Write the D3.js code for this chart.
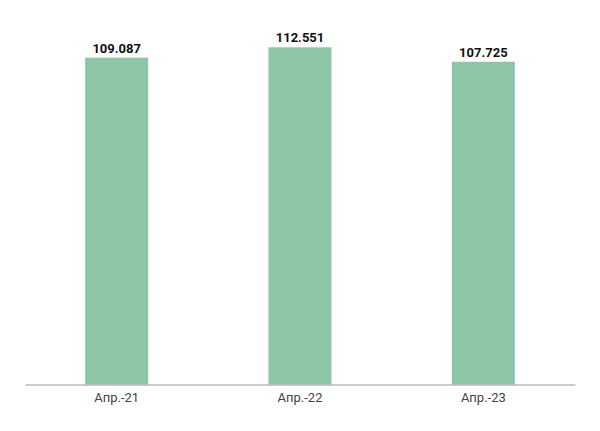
<!DOCTYPE html>
<html><head><meta charset="utf-8">
<script src="https://cdn.jsdelivr.net/npm/d3@7"></script>
<style>body{margin:0;background:#fff}</style>
</head><body>
<svg id="c" width="600" height="431"></svg>
<script>
const categories = ["Апр.-21", "Апр.-22", "Апр.-23"];
const values = [109.087, 112.551, 107.725];
const valueLabels = ["109.087", "112.551", "107.725"];

const svg = d3.select("#c");
const x = d3.scaleBand().domain(categories).range([25, 575]).paddingInner(0.656).paddingOuter(0.328);
const y = d3.scaleLinear().domain([0, 112.551]).range([384.5, 47.3]);

svg.selectAll("rect.bar").data(values).enter().append("rect")
  .attr("class","bar")
  .attr("x",(d,i)=>x(categories[i]))
  .attr("width",x.bandwidth())
  .attr("y",d=>y(d))
  .attr("height",d=>y(0)-y(d))
  .attr("fill","#8ec5a7");

svg.selectAll("text.val").data(values).enter().append("text")
  .attr("class","val")
  .attr("x",(d,i)=>x(categories[i])+x.bandwidth()/2)
  .attr("y",d=>y(d)-5)
  .attr("text-anchor","middle")
  .attr("font-family","Roboto, Arial, sans-serif")
  .attr("font-weight","bold")
  .attr("font-size","13px")
  .attr("fill","#111")
  .text((d,i)=>valueLabels[i]);

const axis = d3.axisBottom(x).tickSize(0).tickPadding(8);
const g = svg.append("g").attr("transform",`translate(0,${y(0)})`).call(axis);
g.select(".domain").attr("stroke","#9a9a9a").attr("stroke-width",1);
g.selectAll("text").attr("font-family","Roboto, Arial, sans-serif").attr("font-size","13px").attr("fill","#444");
</script>
</body></html>
